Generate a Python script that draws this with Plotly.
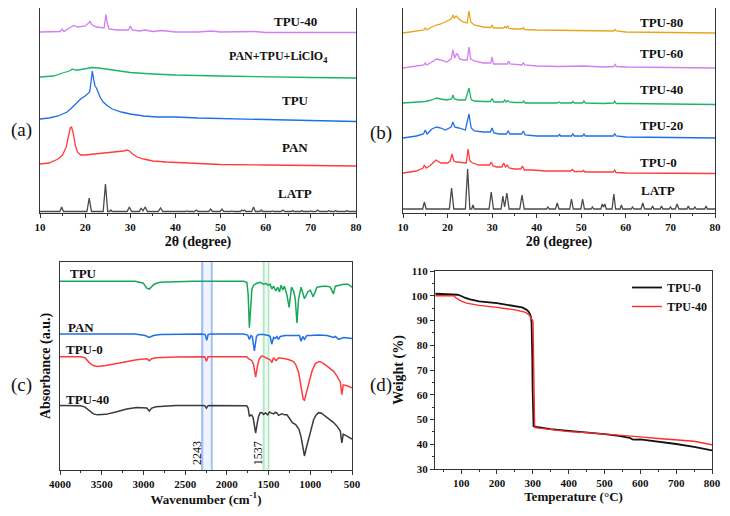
import plotly.graph_objects as go

# ---------------- (a) XRD: stacked patterns (offset intensity, a.u.) ----------------
LATP_2theta = [10, 14.4, 14.8, 15.2, 20.4, 20.9, 21.4, 24.0, 24.5, 25.0, 25.4, 25.7, 26.0,
               29.3, 29.8, 30.3, 32.0, 32.4, 32.8, 33.3, 33.8, 36.2, 36.7, 37.2, 42.2, 42.5, 42.8,
               44.2, 44.6, 45.0, 47.4, 47.8, 48.2, 49.9, 50.3, 50.7, 52.2, 52.5, 52.8,
               54.4, 54.7, 55.0, 55.3, 55.6, 56.9, 57.3, 57.7, 58.7, 59.0, 59.3, 61.2, 61.5, 61.8,
               63.4, 63.8, 64.2, 65.7, 66.0, 66.3, 67.7, 68.0, 68.3, 69.7, 70.0, 70.3,
               71.1, 71.5, 71.9, 73.7, 74.0, 74.3, 75.2, 75.5, 75.8, 77.7, 78.0, 78.3, 80]
a_LATP = [1.5, 1.5, 6, 1.5, 1.5, 15, 1.5, 1.5, 29, 1.5, 1.5, 3, 1.5, 1.5, 6, 1.5,
          1.5, 5, 2, 6, 1.5, 1.5, 5, 1.5, 1.5, 2, 1.5, 1.5, 3, 1.5, 1.5, 4, 1.5, 1.5, 4, 1.5,
          1.5, 2, 1.5, 1.5, 3, 2, 3, 1.5, 1.5, 6, 1.5, 1.5, 3, 1.5, 1.5, 2, 1.5, 1.5, 3, 1.5,
          1.5, 2.5, 1.5, 1.5, 2.5, 1.5, 1.5, 2, 1.5, 1.5, 3, 1.5, 1.5, 2.5, 1.5, 1.5, 2.5, 1.5,
          1.5, 2.5, 1.5, 1.5]

a_PAN_x = [10, 12, 14, 15, 15.8, 16.3, 16.7, 17.0, 17.4, 17.8, 18.3, 19, 20, 22, 24, 26, 27.5,
           28.5, 29.3, 29.8, 30.5, 31.5, 33, 35, 38, 42, 50, 60, 70, 80]
a_PAN_y = [49, 50, 54, 58, 66, 76, 85, 86, 79, 68, 61, 58, 58, 59, 60, 61, 61,
           62, 63, 62, 59, 56, 54, 52, 51, 50, 48.5, 48, 47.5, 47]

a_TPU_x = [10, 12, 14, 16, 17, 18, 19, 20, 20.6, 21.0, 21.3, 21.6, 21.9, 22.2, 22.5, 22.9, 23.4,
           24, 25, 26, 28, 30, 33, 36, 40, 45, 50, 60, 70, 80]
a_TPU_y = [94, 95, 97, 101, 105, 110, 114, 117, 119, 121, 131, 142, 133, 127, 125, 121, 115,
           111, 107, 104, 101, 99, 97, 96, 96, 95, 94.5, 93.5, 92.5, 91.5]

a_MIX_x = [10, 13, 15, 16.5, 17.2, 17.8, 18.5, 20, 21.5, 23, 25, 27, 30, 35, 40, 50, 60, 70, 80]
a_MIX_y = [136, 137, 140, 142, 144, 143, 143, 144.5, 145.5, 145, 143.5, 142, 140.5, 139, 138,
           137, 136, 135.5, 135]

a_TPU40_x = [10, 14.5, 14.9, 15.3, 16.5, 17.5, 18.5, 20, 20.8, 21.1, 21.4, 22.5, 24.2, 24.6,
             24.9, 25.3, 27, 29.6, 30.0, 30.4, 32, 33.3, 35, 37, 40, 45, 48, 50, 57.5, 60, 70, 80]
a_TPU40_y = [181, 181.5, 184, 181.5, 185, 187.5, 186, 187, 190, 192, 188.5, 186, 185, 198.5,
             190, 184, 183, 183, 187, 183, 182, 183, 181.5, 182.5, 181, 181, 182, 181, 181.5,
             180.5, 180.5, 180.5]

# ---------------- (b) XRD ----------------
b_LATP = [4, 4, 11, 4, 4, 25, 4, 4, 44, 4, 4, 8, 4, 4, 21, 4, 4, 17, 6, 20, 4, 4, 18, 4,
          4, 6, 4, 4, 10, 4, 4, 14, 4, 4, 14, 4, 4, 6, 4, 4, 9, 6, 9, 4, 4, 19, 4, 4, 8, 4,
          4, 6, 4, 4, 10, 4, 4, 7, 4, 4, 7, 4, 4, 6, 4, 4, 9, 4, 4, 7, 4, 4, 6, 4, 4, 7, 4, 4]

b_TPU0_x = [10, 13, 14.5, 14.8, 15.2, 16, 17.4, 18.5, 20, 20.6, 21.0, 21.4, 22, 23.5, 24.2, 24.6,
            25.0, 25.6, 27, 29.4, 29.8, 30.2, 31, 32.2, 32.6, 33.0, 33.4, 33.8, 35, 36.4, 36.8,
            37.2, 39, 42, 47.6, 48, 48.4, 50.2, 50.5, 50.8, 55, 57.2, 57.5, 57.8, 60, 65, 70, 80]
b_TPU0_y = [40, 42, 45, 48, 45, 47, 53, 50, 50, 52, 59, 52, 51, 50, 50, 64, 52, 50, 48, 48,
            51, 47, 46, 46, 50, 46, 48, 45, 44, 44, 47, 43, 43, 42, 42, 43.5, 41.5, 41.5, 42.5,
            41, 41, 41, 43, 40.5, 40, 40, 39.5, 39.5]

b_TPU20_x = [10, 13, 14.6, 15.0, 15.4, 16.5, 17.5, 18.5, 19.5, 20.8, 21.2, 21.6, 22.5, 24.0, 24.8,
             25.3, 26, 28, 29.6, 30.0, 30.4, 31.5, 33.2, 33.6, 34.0, 36.6, 37.0, 37.4, 40, 44.8,
             45.1, 45.4, 47.8, 48.1, 48.4, 50.3, 50.6, 50.9, 55, 57.2, 57.5, 57.8, 60, 70, 80]
b_TPU20_y = [75, 77, 79, 83, 79, 84, 86, 85, 83, 86, 91, 86, 85, 83, 99, 85, 82, 81, 81, 85,
             80, 79, 79, 82, 79, 79, 82, 78, 77, 77, 78.5, 77, 77, 79.5, 77, 77, 79, 77, 77, 77,
             79.5, 77, 76, 75.5, 75]

b_TPU40_x = [10, 13, 15, 16.5, 17.5, 18.5, 19.8, 20.9, 21.2, 21.5, 22.5, 24.0, 24.8, 25.3, 26, 28,
             29.6, 30, 30.4, 31.5, 32.5, 32.8, 33.1, 33.5, 33.8, 35, 36.8, 37.1, 37.4, 40, 44.6,
             45, 45.4, 47.8, 48.1, 48.4, 50.3, 50.6, 50.9, 55, 57.2, 57.5, 57.8, 60, 70, 80]
b_TPU40_y = [110, 110.5, 111.5, 113, 115, 114, 113, 114, 118, 114, 113, 113, 125, 113.5, 112,
             111.5, 111.5, 114.5, 111, 111, 111, 113, 111, 112.5, 111, 110.5, 110.5, 112, 110,
             110, 110, 111, 110, 110, 111.5, 110, 110, 112, 110, 109.5, 110, 112, 109.5, 109.5,
             109, 108.5]

b_TPU60_x = [10, 13, 14.7, 15.0, 15.3, 16.5, 17.5, 18.5, 19.8, 20.8, 21.2, 21.6, 22.0, 22.2, 22.7,
             23.5, 24.4, 24.8, 25.2, 26, 28, 29.7, 30.0, 30.3, 31.5, 33.4, 33.7, 34, 36.7, 37.0,
             37.3, 40, 45, 48, 50.5, 55, 57.3, 57.6, 57.9, 60, 70, 80]
b_TPU60_y = [145, 147, 148, 150, 148, 151, 154, 153, 151, 154, 163, 155, 159, 159, 154, 153,
             153, 166, 154, 152, 150, 150, 156, 149, 149, 149, 152, 149, 148, 150.5, 148, 147,
             146.5, 147, 147, 146, 146.5, 148.5, 146.5, 146, 145.5, 145]

b_TPU80_x = [10, 13, 14.7, 15.0, 15.3, 16.5, 17.5, 18.5, 20, 20.8, 21.2, 21.5, 21.9, 22.3, 22.8,
             23.5, 24.4, 24.8, 25.2, 26, 28, 29.7, 30.0, 30.3, 31.5, 32.6, 32.9, 33.2, 33.5, 33.8,
             35, 36.7, 37.0, 37.3, 40, 45, 50, 50.5, 55, 57.3, 57.6, 57.9, 60, 70, 80]
b_TPU80_y = [180, 181.5, 183, 185, 183, 186, 188, 189, 192, 194, 198, 195, 197, 195, 193, 191,
             190, 202, 191, 188, 186, 185.5, 188, 185, 185, 185, 186.5, 185, 187, 184.5, 184,
             184, 185.5, 183.5, 183, 182.5, 182, 182.5, 182, 182, 183.5, 182, 181, 180.5, 180]

# ---------------- (c) FTIR (offset absorbance, a.u.) ----------------
c_TPU_x = [4000, 3500, 3100, 3000, 2960, 2930, 2900, 2870, 2840, 2800, 2400, 1800, 1760, 1745,
           1730, 1712, 1700, 1680, 1640, 1600, 1560, 1530, 1510, 1480, 1460, 1440, 1413, 1390,
           1370, 1350, 1330, 1310, 1280, 1254, 1225, 1200, 1180, 1160, 1140, 1110, 1070, 1030,
           1000, 965, 920, 850, 800, 760, 722, 700, 650, 600, 550, 500]
c_TPU_y = [195, 195, 195, 193, 188, 187, 190, 192, 193, 194, 195, 195, 194, 182, 147, 177, 187,
           191, 193, 194, 192, 193, 191, 192, 187, 190, 185, 189, 184, 191, 186, 190, 181, 168,
           189, 185, 177, 152, 177, 189, 177, 184, 186, 179, 189, 190, 190, 189, 182, 190, 191,
           192, 192, 189]

c_PAN_x = [4000, 3100, 2980, 2930, 2880, 2800, 2300, 2260, 2241, 2225, 2200, 1800, 1750, 1730,
           1712, 1695, 1670, 1645, 1620, 1560, 1500, 1480, 1462, 1440, 1422, 1400, 1382, 1360,
           1300, 1200, 1130, 1110, 1090, 1070, 1040, 1000, 900, 800, 720, 700, 660, 600, 500]
c_PAN_y = [140.5, 140.5, 139, 137, 139, 140, 140.5, 140, 134, 140, 140.5, 140.5, 139.5, 135,
           139, 138, 123, 138, 140, 140, 139, 138, 130, 137, 136, 138, 135, 138, 139, 139, 139,
           133, 138, 135, 139, 139, 139.5, 139, 137, 138, 135, 137, 136]

c_TPU0_x = [4000, 3750, 3700, 3650, 3600, 3550, 3450, 3320, 3200, 3080, 2960, 2930, 2900, 2850,
            2610, 2300, 2265, 2245, 2225, 2200, 1800, 1762, 1740, 1725, 1700, 1680, 1655, 1630,
            1610, 1580, 1520, 1480, 1460, 1440, 1410, 1380, 1300, 1254, 1200, 1175, 1140, 1110,
            1085, 1070, 1050, 1020, 980, 940, 900, 880, 840, 780, 720, 680, 640, 622, 605, 560, 500]
c_TPU0_y = [117, 117, 116, 111, 108, 107, 108, 110.3, 112, 114, 115, 113, 115, 116, 116.7, 117,
            117, 112.5, 117, 117, 117, 117, 115, 114, 113, 109, 96, 109, 115, 118, 116, 114, 111,
            116, 113, 116, 115, 114, 112, 109, 101, 87, 73, 72, 79, 89, 102, 110, 112, 112, 110,
            106, 102, 97, 91, 78, 88, 87, 85]

c_TPU40_x = [4000, 3750, 3700, 3650, 3600, 3550, 3450, 3320, 3200, 3080, 2960, 2930, 2900, 2850,
             2610, 2300, 2265, 2245, 2225, 2200, 1800, 1762, 1745, 1730, 1712, 1700, 1685, 1670,
             1655, 1635, 1620, 1600, 1575, 1560, 1537, 1510, 1490, 1470, 1440, 1420, 1400, 1380,
             1340, 1310, 1280, 1254, 1215, 1175, 1135, 1110, 1095, 1070, 1050, 1020, 990, 960,
             930, 900, 870, 840, 800, 760, 720, 680, 640, 622, 605, 560, 500]
c_TPU40_y = [66.7, 66.5, 65, 61, 58, 57, 57.5, 60.3, 63, 64.7, 64, 61, 64, 65.3, 66.7, 66.7,
             66.5, 64, 66.5, 66.7, 66.5, 66.3, 64, 55.3, 57, 56.5, 54, 47, 38, 49, 55.3, 59.3, 59,
             57.5, 59, 57, 60, 59, 58, 59.5, 59, 56.5, 58, 57, 57, 54, 49, 47, 42, 34, 25.3, 14.5,
             22, 32, 44, 52, 57, 59.3, 59, 57, 55, 52, 49, 45.3, 40.3, 28, 37, 35, 32]

band_blue = [(2282, 2309), (2169, 2193)]
band_green = [(1546, 1570), (1490, 1510)]

# ---------------- (d) TGA ----------------
d_TPU0_T = [28, 60, 90, 100, 110, 125, 150, 200, 250, 270, 282, 288, 292, 295, 296.5, 297.5,
            298.5, 299.5, 300.5, 302, 310, 350, 400, 450, 500, 540, 555, 570, 578, 585, 600,
            650, 700, 750, 800]
d_TPU0_W = [100.8, 100.6, 100.4, 99.9, 99.2, 98.5, 97.7, 97.0, 96.0, 95.3, 94.4, 93.6, 92.6,
            91.2, 89, 85, 75, 62, 51, 47.3, 47.0, 46.1, 45.4, 44.8, 44.1, 43.4, 42.9, 42.6,
            42.0, 41.9, 42.0, 41.1, 40.1, 38.9, 37.5]
d_TPU40_T = [28, 80, 84, 90, 100, 115, 130, 150, 200, 250, 280, 290, 295, 298, 299.5, 300.5,
             301.5, 302.5, 303.5, 305, 310, 350, 400, 450, 500, 550, 600, 650, 700, 750, 800]
d_TPU40_W = [100.0, 100.0, 99.3, 98.6, 97.8, 97.0, 96.5, 96.1, 95.3, 94.3, 93.3, 92.2, 91.0,
             90.3, 89.8, 89.7, 80, 60, 48, 46.8, 46.6, 45.8, 45.1, 44.7, 44.2, 43.6, 43.0, 42.3,
             41.8, 41.2, 39.8]

# ---------------- styling ----------------
SERIF = "Liberation Serif"
AX = "#333333"
C_GRAY = "#4a4a4a"
C_RED = "#ff3c3c"
C_BLUE = "#1f6fe8"
C_GREEN = "#1db36a"
C_VIOLET = "#d27ff0"
C_ORANGE = "#e8a51c"

# the page body adds an 8 px margin, so the figure is sized to fit the window
OFF = 8
W, H = 730 - 2 * OFF, 516 - 2 * OFF


def fx(px):
    return (px - OFF) / W


def fy(py):
    return 1 - (py - OFF) / H


fig = go.Figure()


def line(x, y, color, xa, ya, width=1.3, name=None, legend=False):
    fig.add_trace(go.Scatter(x=x, y=y, mode="lines", name=name, showlegend=legend,
                             line=dict(color=color, width=width), xaxis=xa, yaxis=ya,
                             hoverinfo="skip"))


# (a)
line(LATP_2theta, a_LATP, C_GRAY, "x", "y")
line(a_PAN_x, a_PAN_y, C_RED, "x", "y")
line(a_TPU_x, a_TPU_y, C_BLUE, "x", "y")
line(a_MIX_x, a_MIX_y, C_GREEN, "x", "y")
line(a_TPU40_x, a_TPU40_y, C_VIOLET, "x", "y")
# (b)
line(LATP_2theta, b_LATP, C_GRAY, "x2", "y2")
line(b_TPU0_x, b_TPU0_y, C_RED, "x2", "y2")
line(b_TPU20_x, b_TPU20_y, C_BLUE, "x2", "y2")
line(b_TPU40_x, b_TPU40_y, C_GREEN, "x2", "y2")
line(b_TPU60_x, b_TPU60_y, C_VIOLET, "x2", "y2")
line(b_TPU80_x, b_TPU80_y, C_ORANGE, "x2", "y2")
# (c)
line(c_TPU_x, c_TPU_y, "#16a85a", "x3", "y3", 1.5)
line(c_PAN_x, c_PAN_y, C_BLUE, "x3", "y3", 1.5)
line(c_TPU0_x, c_TPU0_y, C_RED, "x3", "y3", 1.5)
line(c_TPU40_x, c_TPU40_y, "#3a3a3a", "x3", "y3", 1.5)
# (d)
line(d_TPU0_T, d_TPU0_W, "#111111", "x4", "y4", 1.8, "TPU-0", True)
line(d_TPU40_T, d_TPU40_W, "#ff2a2a", "x4", "y4", 1.4, "TPU-40", True)

shapes = []
for lo, hi in band_blue:
    shapes.append(dict(type="rect", xref="x3", yref="y3", x0=lo, x1=hi, y0=0, y1=215,
                       fillcolor="rgba(90,140,240,0.55)", line=dict(width=0), layer="below"))
shapes.append(dict(type="rect", xref="x3", yref="y3", x0=band_blue[1][1], x1=band_blue[0][0],
                   y0=0, y1=215, fillcolor="rgba(170,195,250,0.18)", line=dict(width=0),
                   layer="below"))
for lo, hi in band_green:
    shapes.append(dict(type="rect", xref="x3", yref="y3", x0=lo, x1=hi, y0=0, y1=215,
                       fillcolor="rgba(110,205,140,0.5)", line=dict(width=0), layer="below"))
shapes.append(dict(type="rect", xref="x3", yref="y3", x0=band_green[1][1], x1=band_green[0][0],
                   y0=0, y1=215, fillcolor="rgba(170,230,190,0.2)", line=dict(width=0),
                   layer="below"))

LBL = dict(family=SERIF, size=13, color="#111111", weight="bold")
LBL_S = dict(family=SERIF, size=12, color="#111111", weight="bold")
ann = []


def label(text, x, y, xref, yref, xanchor="center", font=LBL):
    ann.append(dict(text=text, x=x, y=y, xref=xref, yref=yref, xanchor=xanchor,
                    yanchor="middle", showarrow=False, font=font))


label("TPU-40", 66.5, 192, "x", "y")
label("PAN+TPU+LiClO<sub>4</sub>", 62.8, 156, "x", "y", font=LBL_S)
label("TPU", 66.5, 113, "x", "y")
label("PAN", 66.5, 66, "x", "y")
label("LATP", 66.5, 20, "x", "y")

label("TPU-80", 68.0, 191, "x2", "y2")
label("TPU-60", 68.0, 160, "x2", "y2")
label("TPU-40", 68.0, 124, "x2", "y2")
label("TPU-20", 68.0, 88, "x2", "y2")
label("TPU-0", 67.3, 51, "x2", "y2")
label("LATP", 67.3, 23, "x2", "y2")

label("TPU", 3910, 203, "x3", "y3", "left")
label("PAN", 3930, 147, "x3", "y3", "left")
label("TPU-0", 3950, 125, "x3", "y3", "left")
label("TPU-40", 3950, 73, "x3", "y3", "left")

NUM = dict(family=SERIF, size=12, color="#111111")
ann.append(dict(text="2243", x=2360, y=3, xref="x3", yref="y3", xanchor="center",
                yanchor="bottom", textangle=-90, showarrow=False, font=NUM))
ann.append(dict(text="1537", x=1625, y=3, xref="x3", yref="y3", xanchor="center",
                yanchor="bottom", textangle=-90, showarrow=False, font=NUM))

PANEL = dict(family=SERIF, size=19, color="#111111")
for t, px, py in [("(a)", 21, 130), ("(b)", 381, 133), ("(c)", 21, 385), ("(d)", 381, 385)]:
    ann.append(dict(text=t, x=fx(px), y=fy(py), xref="paper", yref="paper",
                    xanchor="center", yanchor="middle", showarrow=False, font=PANEL))

TICKF = dict(family=SERIF, size=11, color="#111111", weight="bold")
TITF = dict(family=SERIF, size=14, color="#111111", weight="bold")
TITF_LOW = dict(family=SERIF, size=13, color="#111111", weight="bold")


def xax(dom, rng, dtick, title, anchor, minor_dtick=None, tick0=None, standoff=3, tf=TITF):
    d = dict(domain=dom, range=rng, dtick=dtick, anchor=anchor, showline=True, linecolor=AX,
             linewidth=1.3, mirror=True, ticks="outside", ticklen=4, tickwidth=1, tickcolor=AX,
             tickfont=TICKF, showgrid=False, zeroline=False, automargin=False,
             title=dict(text=title, font=tf, standoff=standoff))
    if tick0 is not None:
        d["tick0"] = tick0
    if minor_dtick:
        d["minor"] = dict(dtick=minor_dtick, ticks="outside", ticklen=2, tickcolor=AX,
                          showgrid=False)
    return d


def yax(dom, rng, anchor, title=None, ticks=False):
    d = dict(domain=dom, range=rng, anchor=anchor, showline=True, linecolor=AX, linewidth=1.3,
             mirror=True, showgrid=False, zeroline=False, automargin=False)
    if ticks:
        d.update(dtick=10, ticks="outside", ticklen=4, tickcolor=AX, tickfont=TICKF,
                 minor=dict(dtick=5, ticks="outside", ticklen=2, tickcolor=AX, showgrid=False))
    else:
        d.update(showticklabels=False, ticks="")
    if title:
        d["title"] = dict(text=title, font=TITF, standoff=4)
    return d


fig.update_layout(
    width=W, height=H, margin=dict(l=0, r=0, t=0, b=0, autoexpand=False),
    paper_bgcolor="white", plot_bgcolor="white",
    font=dict(family=SERIF, color="#111111"),
    xaxis=xax([fx(40), fx(356)], [10, 80], 10, "2θ (degree)", "y", 5),
    yaxis=yax([fy(213), fy(8)], [0, 205], "x"),
    xaxis2=xax([fx(403), fx(715)], [10, 80], 10, "2θ (degree)", "y2", 5),
    yaxis2=yax([fy(213), fy(8)], [0, 205], "x2"),
    xaxis3=xax([fx(60), fx(352)], [4000, 500], 500, "Wavenumber (cm<sup>-1</sup>)", "y3", 250,
               standoff=1, tf=TITF_LOW),
    yaxis3=yax([fy(470), fy(262)], [0, 215], "x3", "Absorbance (a.u.)"),
    xaxis4=xax([fx(435), fx(712)], [27, 800], 100, "Temperature (°C)", "y4", 50, 0,
               standoff=1, tf=TITF_LOW),
    yaxis4=yax([fy(469), fy(271)], [30, 110], "x4", "Weight (%)", True),
    shapes=shapes, annotations=ann,
    legend=dict(x=fx(627), y=fy(273), xanchor="left", yanchor="top",
                bgcolor="rgba(0,0,0,0)", font=dict(family=SERIF, size=12, color="#111111",
                                                    weight="bold"),
                tracegroupgap=0, itemwidth=30),
    showlegend=True,
)

fig.write_html("out.html")
